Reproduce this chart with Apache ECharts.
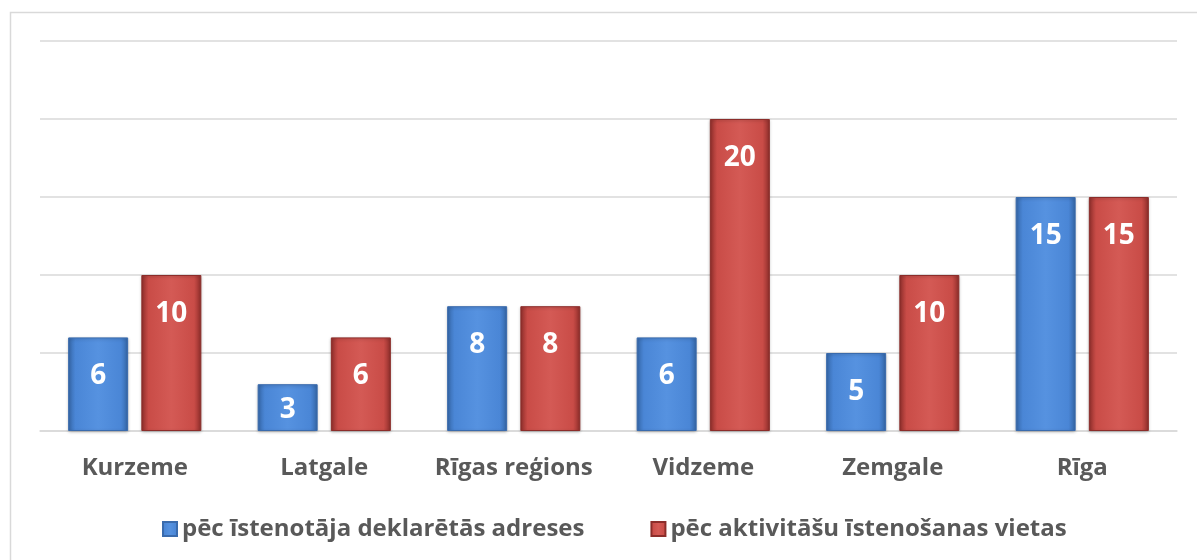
<!DOCTYPE html>
<html><head><meta charset="utf-8">
<script src="https://cdn.jsdelivr.net/npm/echarts@6/dist/echarts.min.js"></script>
<style>html,body{margin:0;padding:0;background:#fff}#c{width:1197px;height:560px}</style>
</head><body><div id="c"></div>
<script>
const categories = ['Kurzeme', 'Latgale', 'Rīgas reģions', 'Vidzeme', 'Zemgale', 'Rīga'];
const seriesNames = ['pēc īstenotāja deklarētās adreses', 'pēc aktivitāšu īstenošanas vietas'];
const declaredAddress = [6, 3, 8, 6, 5, 15];
const activityPlace = [10, 6, 8, 20, 10, 15];

const FONT = '"Open Sans", sans-serif';
function grad(edge, mid, light) {
  return new echarts.graphic.LinearGradient(0, 0, 1, 0, [
    {offset: 0, color: edge}, {offset: 0.12, color: mid}, {offset: 0.5, color: light},
    {offset: 0.88, color: mid}, {offset: 1, color: edge}
  ]);
}
function items(vals) {
  return vals.map(v => ({value: v, label: {distance: v < 4 ? 12 : 25}}));
}
const chart = echarts.init(document.getElementById('c'));
chart.setOption({
  animation: false,
  backgroundColor: '#fff',
  graphic: [{type: 'rect', shape: {x: 10.5, y: 12.5, width: 1200, height: 600}, style: {fill: 'none', stroke: '#d9d9d9', lineWidth: 1.5}, silent: true}],
  grid: {left: 40, right: 20, top: 41, bottom: 129},
  legend: {
    bottom: 14, left: 157, icon: 'rect', itemWidth: 14, itemHeight: 14, itemGap: 66, itemTextGap: 6,
    textStyle: {fontFamily: FONT, fontWeight: 'bold', fontSize: 24, color: '#595959'},
    data: seriesNames
  },
  xAxis: {
    type: 'category', data: categories,
    axisLine: {lineStyle: {color: '#d9d9d9', width: 1.5}}, axisTick: {show: false},
    axisLabel: {interval: 0, fontFamily: FONT, fontWeight: 'bold', fontSize: 24, color: '#595959', margin: 25}
  },
  yAxis: {
    type: 'value', min: 0, max: 25, interval: 5,
    axisLabel: {show: false}, axisLine: {show: false}, axisTick: {show: false},
    splitLine: {lineStyle: {color: '#d9d9d9', width: 1.5}}
  },
  series: [
    {
      name: seriesNames[0], type: 'bar', data: items(declaredAddress), barWidth: 60, barGap: '22%',
      itemStyle: {color: grad('#3567a8', '#4a86d6', '#5692e0'), borderColor: '#3a6bad', borderWidth: 1,
        shadowColor: 'rgba(0,0,0,0.25)', shadowBlur: 3, shadowOffsetY: 1},
      label: {show: true, position: 'insideTop', color: '#fff', fontFamily: FONT, fontWeight: 'bold', fontSize: 28}
    },
    {
      name: seriesNames[1], type: 'bar', data: items(activityPlace), barWidth: 60,
      itemStyle: {color: grad('#8f2e2b', '#c94c47', '#d45a55'), borderColor: '#8c2d2a', borderWidth: 1,
        shadowColor: 'rgba(0,0,0,0.25)', shadowBlur: 3, shadowOffsetY: 1},
      label: {show: true, position: 'insideTop', color: '#fff', fontFamily: FONT, fontWeight: 'bold', fontSize: 28}
    }
  ]
});
</script></body></html>
